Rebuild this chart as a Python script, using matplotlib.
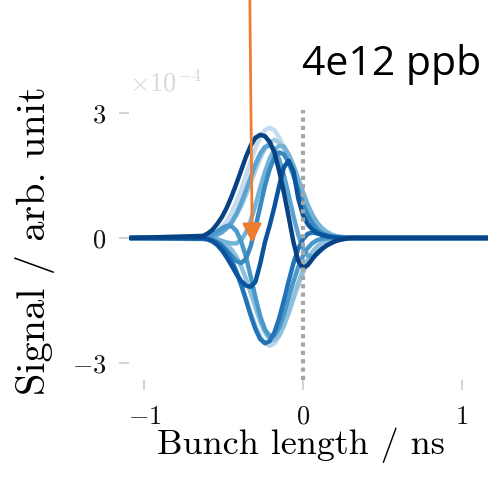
import numpy as np
import matplotlib
matplotlib.use("Agg")
import matplotlib.pyplot as plt

plt.rcParams["font.family"] = "serif"
plt.rcParams["font.serif"] = ["cmr10"]
plt.rcParams["mathtext.fontset"] = "cm"
plt.rcParams["axes.formatter.use_mathtext"] = True

# bunch position in ns (flat baseline outside the sampled window)
bunch_ns = [-1.09,
            -0.63, -0.60, -0.57, -0.54, -0.51, -0.48, -0.45, -0.42, -0.39, -0.36,
            -0.33, -0.30, -0.27, -0.24, -0.21, -0.18, -0.15, -0.12, -0.09, -0.06,
            -0.03, 0.00, 0.03, 0.06, 0.09, 0.12, 0.15, 0.18, 0.21, 0.24,
            0.27, 0.30, 0.33, 0.36,
            1.20]

# signal traces in units of 1e-4, light -> dark
sig_p1 = [0, 0.03, 0.06, 0.10, 0.16, 0.27, 0.41, 0.61, 0.86, 1.15, 1.49, 1.83, 2.15, 2.41, 2.58, 2.64,
          2.58, 2.41, 2.15, 1.83, 1.49, 1.15, 0.86, 0.61, 0.41, 0.27, 0.16, 0.10, 0.06, 0.03, 0.02,
          0.01, 0, 0, 0, 0]
sig_n1 = [0, -0.03, -0.05, -0.10, -0.16, -0.26, -0.40, -0.59, -0.84, -1.13, -1.45, -1.79, -2.10, -2.35,
          -2.52, -2.58, -2.52, -2.35, -2.10, -1.79, -1.45, -1.13, -0.84, -0.59, -0.40, -0.26, -0.16,
          -0.10, -0.05, -0.03, -0.02, -0.01, 0, 0, 0, 0]
sig_p2 = [0, 0.01, 0.03, 0.05, 0.09, 0.15, 0.24, 0.36, 0.54, 0.76, 1.03, 1.32, 1.63, 1.91, 2.14, 2.29,
          2.35, 2.29, 2.14, 1.91, 1.63, 1.32, 1.03, 0.76, 0.54, 0.36, 0.24, 0.15, 0.09, 0.05, 0.03,
          0.01, 0.01, 0, 0, 0]
sig_n2 = [0, -0.00, -0.01, -0.02, -0.05, -0.09, -0.17, -0.28, -0.45, -0.68, -0.97, -1.31, -1.66, -2.00,
          -2.26, -2.42, -2.44, -2.33, -2.09, -1.78, -1.43, -1.08, -0.77, -0.52, -0.33, -0.20, -0.11,
          -0.06, -0.03, -0.01, -0.01, 0, 0, 0, 0, 0]
sig_m1 = [0, 0.00, -0.01, -0.02, -0.03, -0.07, -0.11, -0.13, -0.13, -0.05, 0.13, 0.41, 0.79, 1.20,
          1.58, 1.90, 2.12, 2.21, 2.19, 2.00, 1.74, 1.42, 1.10, 0.80, 0.55, 0.36, 0.22, 0.13, 0.07,
          0.04, 0.02, 0.01, 0, 0, 0, 0]
sig_l4 = [0, 0.01, 0.02, 0.04, 0.08, 0.14, 0.24, 0.38, 0.58, 0.84, 1.14, 1.46, 1.77, 2.02, 2.18, 2.22,
          2.12, 1.88, 1.50, 1.02, 0.52, 0.08, -0.25, -0.42, -0.45, -0.38, -0.27, -0.17, -0.10, -0.05,
          -0.02, -0.01, 0, 0, 0, 0]
sig_n3 = [0, 0.01, 0.04, 0.09, 0.16, 0.24, 0.29, 0.28, 0.17, -0.08, -0.45, -0.92, -1.42, -1.87, -2.19,
          -2.35, -2.33, -2.14, -1.82, -1.43, -1.04, -0.70, -0.43, -0.24, -0.12, -0.05, -0.02, -0.01,
          0, 0, 0, 0, 0, 0, 0, 0]
sig_m3 = [0, 0.00, -0.02, -0.05, -0.10, -0.18, -0.30, -0.43, -0.55, -0.60, -0.50, -0.20, 0.25, 0.75,
          1.25, 1.65, 1.93, 2.05, 2.00, 1.80, 1.50, 1.15, 0.82, 0.55, 0.35, 0.20, 0.11, 0.06, 0.03,
          0.01, 0, 0, 0, 0, 0, 0]
sig_m2 = [0, -0.02, -0.03, -0.06, -0.12, -0.21, -0.34, -0.54, -0.80, -1.12, -1.48, -1.85, -2.18, -2.42,
          -2.52, -2.47, -2.26, -1.92, -1.49, -1.03, -0.60, -0.26, -0.03, 0.10, 0.13, 0.11, 0.08, 0.06,
          0.03, 0.02, 0.01, 0, 0, 0, 0, 0]
sig_d2 = [0, 0.00, -0.03, -0.08, -0.17, -0.30, -0.47, -0.66, -0.86, -1.03, -1.14, -1.17, -1.05, -0.62,
          -0.10, 0.30, 0.75, 1.25, 1.70, 1.85, 1.60, 0.95, 0.55, 0.33, 0.20, 0.12, 0.07, 0.04, 0.02,
          0.01, 0, 0, 0, 0, 0, 0]
sig_d1 = [0, 0.05, 0.11, 0.20, 0.34, 0.51, 0.73, 1.00, 1.30, 1.62, 1.94, 2.21, 2.40, 2.47, 2.44, 2.30,
          2.05, 1.60, 1.08, 0.50, -0.10, -0.55, -0.72, -0.65, -0.50, -0.36, -0.26, -0.18, -0.12,
          -0.07, -0.04, -0.02, 0, 0, 0, 0]

traces = [sig_p1, sig_n1, sig_p2, sig_n2, sig_m1, sig_l4, sig_n3, sig_m3, sig_m2, sig_d2, sig_d1]
shades = [0.25, 0.30, 0.36, 0.42, 0.48, 0.55, 0.60, 0.66, 0.74, 0.86, 0.93]

fig = plt.figure(figsize=(4.88, 4.79), dpi=100)
ax = fig.add_axes([0.2635, 0.2067, 0.7365, 0.5929])

for trace, shade in zip(traces, shades):
    ax.plot(bunch_ns, np.array(trace) * 1e-4, color=plt.cm.Blues(shade), lw=3.2,
            solid_capstyle="round", solid_joinstyle="round")

ax.axvline(0, ymax=0.951, color="#a6a6a6", lw=3, ls=(0, (1, 1)), zorder=5)

ax.set_xlim(-1.1, 1.167)
ax.set_ylim(-3.4e-4, 3.4e-4)
ax.set_xticks([-1, 0, 1])
ax.set_yticks([-3e-4, 0, 3e-4])
ax.ticklabel_format(axis="y", style="sci", scilimits=(0, 0), useMathText=True)
for spine in ax.spines.values():
    spine.set_visible(False)
ax.tick_params(length=7, width=1.5, color="#d4d4d4", labelsize=19, labelcolor="#111111")
ax.tick_params(axis="x", pad=11)
ax.tick_params(axis="y", pad=9)
ax.yaxis.get_offset_text().set(color="#d9d9d9", fontsize=19)

ax.set_xlabel("Bunch length / ns", fontsize=26)
ax.xaxis.set_label_coords(0.48, -0.166)
ax.set_ylabel("Signal / arb. unit", fontsize=29)
ax.yaxis.set_label_coords(-0.205, 0.489)

fig.text(0.619, 0.8434, "4e12 ppb", fontfamily="Open Sans", fontsize=29.5, va="baseline")

ax.annotate("", xy=(-0.32, -0.12e-4), xytext=(0.512, 1.0), textcoords="figure fraction",
            arrowprops=dict(arrowstyle="-|>", color="#ed7d31", lw=2, mutation_scale=29,
                            shrinkA=0, shrinkB=0),
            annotation_clip=False)

fig.savefig("out.png", dpi=100)
